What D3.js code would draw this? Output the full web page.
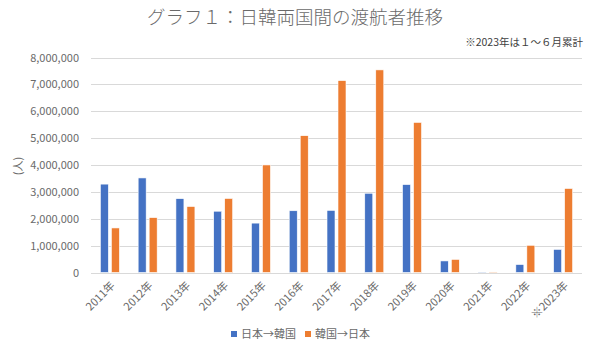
<!DOCTYPE html>
<html>
<head>
<meta charset="utf-8">
<script src="https://cdn.jsdelivr.net/npm/d3@7"></script>
<style>
	body { margin: 0; background: #fff; }
	text { font-family: "Noto Sans CJK JP", "Noto Sans", sans-serif; }
</style>
</head>
<body>
<div id="chart"></div>
<script>
const years = ["2011年", "2012年", "2013年", "2014年", "2015年", "2016年", "2017年",
	"2018年", "2019年", "2020年", "2021年", "2022年", "※2023年"]
const seriesNames = ["日本→韓国", "韓国→日本"]
const japanToKorea = [3289051, 3518792, 2747750, 2280434, 1837782, 2297893, 2311447,
	2948527, 3271706, 430742, 15265, 296867, 860000]
const koreaToJapan = [1658073, 2042775, 2456165, 2755313, 4002095, 5090302, 7140438,
	7538952, 5584597, 487939, 18947, 1012751, 3126500]
const yTicks = [0, 1000000, 2000000, 3000000, 4000000, 5000000, 6000000, 7000000, 8000000]
const colors = ["#4472C4", "#ED7D31"]

const params = { width: 600, height: 350, left: 91, right: 582, top: 57.5, bottom: 272.5 }

const svg = d3.select("#chart").append("svg")
	.attr("width", params.width)
	.attr("height", params.height)

// scales
const xScale = d3.scaleBand()
	.domain(years)
	.range([params.left, params.right])

const yScale = d3.scaleLinear()
	.domain([0, 8000000])
	.range([params.bottom, params.top])

// gridlines
svg.append("g")
	.selectAll("line")
	.data(yTicks)
	.join("line")
	.attr("x1", params.left)
	.attr("x2", params.right)
	.attr("y1", d => Math.round(yScale(d)) + 0.5)
	.attr("y2", d => Math.round(yScale(d)) + 0.5)
	.attr("stroke", "#d9d9d9")
	.attr("stroke-width", 1)

// y axis labels
svg.append("g")
	.attr("transform", `translate(${params.left - 12}, 0)`)
	.call(d3.axisLeft(yScale).tickValues(yTicks).tickSize(0).tickPadding(0)
		.tickFormat(d3.format(",")))
	.call(g => g.select(".domain").remove())
	.call(g => g.selectAll("text")
		.attr("fill", "#6a6a6a")
		.attr("font-size", "11px")
		.style("font-family", "'Noto Sans CJK JP', sans-serif"))

// x axis labels
svg.append("g")
	.attr("transform", `translate(0, ${params.bottom})`)
	.call(d3.axisBottom(xScale).tickSize(0).tickPadding(0))
	.call(g => g.select(".domain").remove())
	.call(g => g.selectAll("text")
		.attr("fill", "#6a6a6a")
		.attr("font-size", "11px")
		.style("font-family", "'Noto Sans CJK JP', sans-serif")
		.attr("text-anchor", "end")
		.attr("dy", "0.35em")
		.attr("transform", "translate(3, 11) rotate(-45)"))

// bars
const barW = 8, gap = 3
const data = [japanToKorea, koreaToJapan]
data.forEach((values, si) => {
	svg.append("g")
		.selectAll("rect")
		.data(values)
		.join("rect")
		.attr("x", (d, i) => xScale(years[i]) + xScale.bandwidth() / 2 + (si == 0 ? -barW - gap / 2 : gap / 2))
		.attr("y", d => yScale(d))
		.attr("width", barW)
		.attr("height", d => params.bottom - yScale(d))
		.attr("fill", colors[si])
		.attr("stroke", "#fff")
		.attr("stroke-width", 0.6)
})

// title
svg.append("text")
	.attr("x", 295)
	.attr("y", 24)
	.attr("text-anchor", "middle")
	.attr("font-size", "18.5px")
	.attr("font-weight", 300)
	.attr("fill", "#6a6a6a")
	.text("グラフ１：日韓両国間の渡航者推移")

svg.append("text")
	.attr("x", 583)
	.attr("y", 46)
	.attr("text-anchor", "end")
	.attr("font-size", "10.5px")
	.attr("fill", "#404040")
	.text("※2023年は１～６月累計")

// y label
svg.append("text")
	.attr("transform", "translate(22, 166) rotate(-90)")
	.attr("text-anchor", "middle")
	.attr("font-size", "11px")
	.attr("fill", "#6a6a6a")
	.text("(人)")

// legend
const legendX = [231, 305]
seriesNames.forEach((name, i) => {
	svg.append("rect")
		.attr("x", legendX[i])
		.attr("y", 331)
		.attr("width", 6)
		.attr("height", 6)
		.attr("fill", colors[i])
	svg.append("text")
		.attr("x", legendX[i] + 10)
		.attr("y", 338)
		.attr("font-size", "11px")
		.attr("fill", "#6a6a6a")
		.text(name)
})
</script>
</body>
</html>
